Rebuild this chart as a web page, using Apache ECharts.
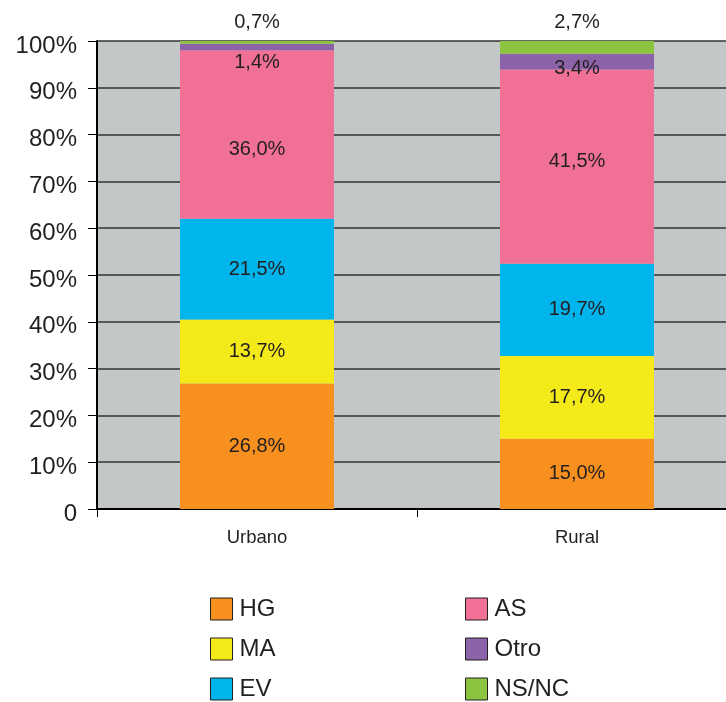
<!DOCTYPE html>
<html>
<head>
    <meta charset="utf-8">
    <title>Urbano / Rural</title>
    <script src="https://cdn.jsdelivr.net/npm/echarts@6/dist/echarts.min.js"></script>
    <style>
        html, body { margin: 0; padding: 0; background: #fff; overflow: hidden; }
        /* the original chart is cut off on the right, so the canvas is a bit wider than the window */
        #chart { width: 737px; height: 702px; }
    </style>
</head>
<body>
    <div id="chart"></div>
    <script type="text/javascript">
        var categories = ['Urbano', 'Rural'];
        var seriesNames = ['HG', 'MA', 'EV', 'AS', 'Otro', 'NS/NC'];
        var hg = [26.8, 15.0];
        var ma = [13.7, 17.7];
        var ev = [21.5, 19.7];
        var as = [36.0, 41.5];
        var otro = [1.4, 3.4];
        var nsnc = [0.7, 2.7];
        var yTicks = [0, 10, 20, 30, 40, 50, 60, 70, 80, 90, 100];

        var colors = ['#f7901e', '#f4ea1a', '#00b4ec', '#f07096', '#8c62a8', '#8bc43f'];
        var txt = '#231f20';
        var font = 'Liberation Sans, Arial, sans-serif';

        // labels that were moved by hand in the original
        var labelOffsets = {
            'AS': [[0, 15], [0, -5]],
            'Otro': [[0, 15], [0, 7]]
        };

        function pct(v) { return v.toFixed(1).replace('.', ',') + '%'; }

        var myChart = echarts.init(document.getElementById('chart'));
        var allData = [hg, ma, ev, as, otro, nsnc];

        var series = [];
        for (var i = 0; i < seriesNames.length; i++) {
            var name = seriesNames[i];
            var label = {
                show: true, position: 'inside', color: txt, fontSize: 20, fontFamily: font,
                formatter: function (p) { return pct(p.value); }
            };
            var data = allData[i].slice();
            if (name == 'NS/NC') {
                label.position = 'top';
                label.distance = 9;
            }
            if (labelOffsets[name]) {
                var offs = labelOffsets[name];
                data = data.map(function (v, k) {
                    return { value: v, label: { offset: offs[k] } };
                });
            }
            series.push({
                name: name,
                type: 'bar',
                stack: 'total',
                barWidth: 154,
                data: data,
                itemStyle: { color: colors[i] },
                label: label,
                emphasis: { disabled: true }
            });
        }

        var legendStyle = {
            orient: 'vertical',
            padding: 0,
            height: 140,
            itemWidth: 22, itemHeight: 22, itemGap: 12,
            icon: 'rect',
            itemStyle: { borderColor: '#231f20', borderWidth: 1 },
            textStyle: { color: txt, fontSize: 24, fontFamily: font, height: 28, lineHeight: 28, padding: [0, 0, 0, 2] }
        };

        var option = {
            animation: false,
            backgroundColor: '#fff',
            legend: [
                Object.assign({ data: ['HG', 'MA', 'EV'], left: 210, top: 595 }, legendStyle),
                Object.assign({ data: ['AS', 'Otro', 'NS/NC'], left: 465, top: 595 }, legendStyle)
            ],
            grid: { left: 97, right: 0, top: 41, bottom: 193, show: true, backgroundColor: '#c4c7c8', borderWidth: 0 },
            xAxis: {
                type: 'category',
                data: categories,
                axisLine: { lineStyle: { color: '#000', width: 2 } },
                axisTick: { show: true, length: 8, lineStyle: { color: '#000' } },
                axisLabel: { color: txt, fontSize: 18.5, fontFamily: font, margin: 19 }
            },
            yAxis: {
                type: 'value',
                min: yTicks[0], max: yTicks[yTicks.length - 1], interval: 10,
                axisLine: { show: true, lineStyle: { color: '#000', width: 2 } },
                axisTick: { show: true, length: 9, lineStyle: { color: '#000' } },
                splitLine: { lineStyle: { color: '#333', width: 1.5 } },
                axisLabel: {
                    color: txt, fontSize: 24, fontFamily: font, margin: 20,
                    verticalAlign: 'top', lineHeight: 10,
                    formatter: function (v) { return v == 0 ? '0' : v + '%'; }
                }
            },
            series: series
        };

        myChart.setOption(option);
    </script>
</body>
</html>
